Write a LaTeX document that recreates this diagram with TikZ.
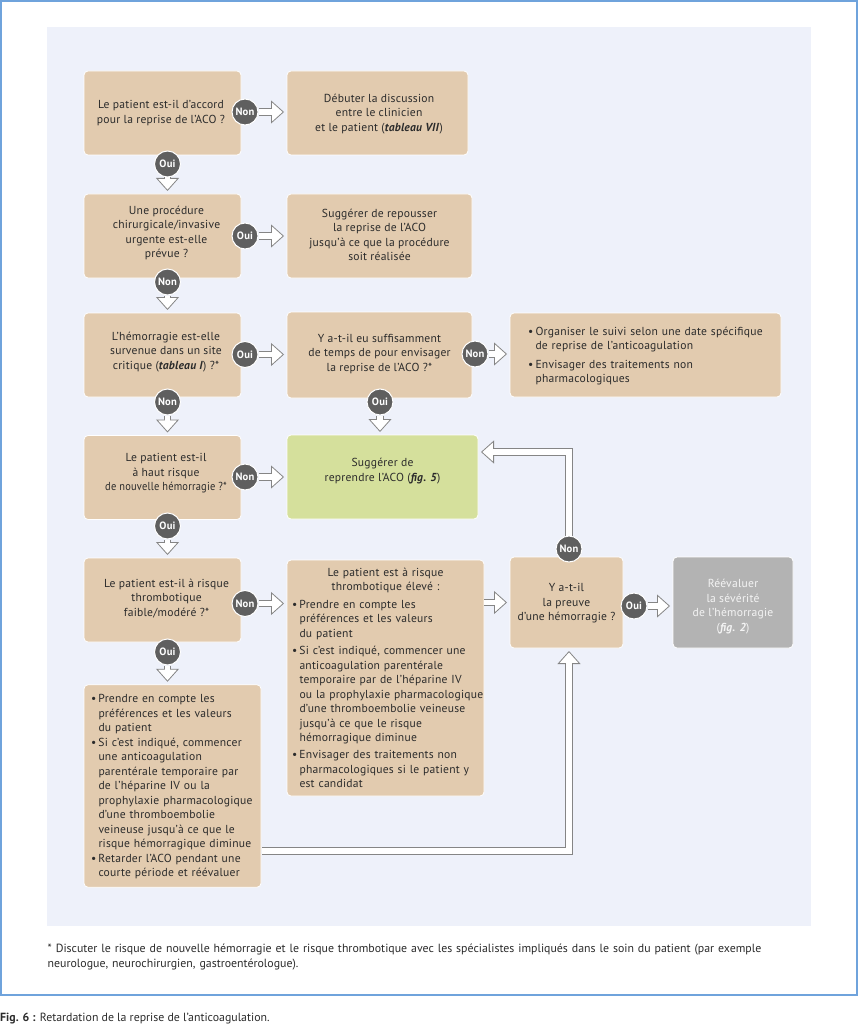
\documentclass[tikz,border=0pt]{standalone}
\usepackage{fontspec}
\setmainfont[LetterSpace=2]{PT Sans}
\newfontfamily\notefont{PT Sans}
\usetikzlibrary{arrows.meta}
\definecolor{panelblue}{HTML}{EEF1FA}
\definecolor{framesky}{HTML}{6FA3DC}
\definecolor{sandbox}{HTML}{E2CBAF}
\definecolor{leafgreen}{HTML}{D5E09C}
\definecolor{stonegrey}{HTML}{B3B3B3}
\definecolor{discgrey}{HTML}{5F5F5F}
\definecolor{inkdark}{HTML}{2B2B2B}
\definecolor{pipegrey}{HTML}{858585}
% centred lines, nudged by dx and dy inside the box
\newcommand{\lns}[3]{\raisebox{#2}[0pt][0pt]{\hspace*{#1}\hspace*{#1}\begin{tabular}[c]{@{}c@{}}#3\end{tabular}}}
% bullet item, the optional value is its distance from the box edge
\newcommand{\bul}[1][7pt]{\par\leftskip=\dimexpr#1+7.5pt\relax\leavevmode\hspace*{-7.5pt}\makebox[7.5pt][l]{\textbullet}\ignorespaces}
\newcommand{\tref}[1]{\textbf{\textit{#1}}}
\tikzset{
	qbox/.style={rectangle, rounded corners=4pt, fill=sandbox, draw=white, line width=0.8pt, outer sep=0pt, text=inkdark, font=\fontsize{11.6}{14.5}\selectfont},
	listbox/.style={qbox, align=left, inner xsep=0pt},
	decision/.style={circle, fill=discgrey, draw=white, line width=1pt, minimum size=26pt, inner sep=0pt, text=white, font=\fontsize{10.6}{10}\selectfont\bfseries},
	flow/.style={draw=pipegrey, line width=0.9pt, double=white, double distance=5.6pt, shorten >=3pt,
		-{Triangle[length=13pt, width=23pt, fill=white, line width=0.8pt]},
		postaction={draw=white, -, line width=0.1pt, double=white, double distance=5.6pt, shorten >=15pt}},
}
\begin{document}
\begin{tikzpicture}[x=1pt, y=-1pt]
	\useasboundingbox (0,0) rectangle (858,1024);
	\node[rectangle, draw=framesky, line width=1.6pt, fill=white, minimum width=856pt, minimum height=994pt](frameBox) at (429,498){};
	\node[rectangle, fill=panelblue, minimum width=764pt, minimum height=899pt](panelBox) at (429,476.5){};

	% left column
	\node[qbox, minimum width=157pt, minimum height=84pt](boxAgree) at (162.5,113){\lns{-1.5pt}{-3pt}{Le patient est-il d’accord\\pour la reprise de l’ACO ?}};
	\node[qbox, minimum width=157pt, minimum height=84pt](boxProc) at (162.5,236){\lns{4pt}{0pt}{Une procédure\\chirurgicale/invasive\\urgente est-elle\\prévue ?}};
	\node[qbox, minimum width=157pt, minimum height=84pt](boxSite) at (162.5,355){\lns{3.5pt}{0pt}{L’hémorragie est-elle\\survenue dans un site\\critique (\tref{tableau I}) ?*}};
	\node[qbox, minimum width=157pt, minimum height=84pt](boxRisk) at (162.5,477.5){\lns{3.5pt}{1pt}{Le patient est-il\\à haut risque\\\scalebox{.9}[1]{de nouvelle hémorragie ?*}}};
	\node[qbox, minimum width=157pt, minimum height=84pt](boxThromb) at (162.5,600){\lns{4pt}{-2pt}{Le patient est-il à risque\\thrombotique\\faible/modéré ?*}};
	\node[listbox, text width=177pt, minimum width=177pt, minimum height=202pt](boxDelay) at (172.5,786){%
		\bul Prendre en compte les\\préférences et les valeurs\\du patient
		\bul Si c’est indiqué, commencer\\une anticoagulation\\parentérale temporaire par\\de l’héparine IV ou la\\prophylaxie pharmacologique\\d’une thromboembolie\\veineuse jusqu’à ce que le\\risque hémorragique diminue
		\bul Retarder l’ACO pendant une\\courte période et réévaluer\par\vspace{5pt}};

	% middle column
	\node[qbox, minimum width=181pt, minimum height=84pt](boxTalk) at (377.5,113){\lns{1.5pt}{-4pt}{Débuter la discussion\\entre le clinicien\\et le patient (\tref{tableau VII})}};
	\node[qbox, minimum width=185pt, minimum height=84pt](boxDefer) at (379.5,236){\lns{0pt}{-3pt}{Suggérer de repousser\\la reprise de l’ACO\\jusqu’à ce que la procédure\\soit réalisée}};
	\node[qbox, minimum width=185pt, minimum height=86pt](boxTime) at (379.5,355){\lns{0pt}{-2pt}{Y a-t-il eu suffisamment\\de temps de pour envisager\\la reprise de l’ACO ?*}};
	\node[qbox, fill=leafgreen, minimum width=191pt, minimum height=84pt](boxResume) at (382.5,477){\lns{0pt}{3pt}{Suggérer de\\reprendre l’ACO (\tref{fig. 5})}};
	\node[listbox, text width=197pt, minimum width=197pt, minimum height=236pt](boxHigh) at (385.5,678){%
		{\centering Le patient est à risque\\thrombotique élevé :\par}\vspace{2.8pt}
		\bul[5pt] Prendre en compte les\\préférences et les valeurs\\du patient\par\vspace{2.8pt}
		\bul[5pt] Si c’est indiqué, commencer une\\anticoagulation parentérale\\temporaire par de l’héparine IV\\ou la prophylaxie pharmacologique\\d’une thromboembolie veineuse\\jusqu’à ce que le risque\\hémorragique diminue\par\vspace{2.8pt}
		\bul[5pt] Envisager des traitements non\\pharmacologiques si le patient y\\est candidat\par};

	% right column
	\node[listbox, text width=271pt, minimum width=271pt, minimum height=84pt](boxFollow) at (645.5,355){%
		\bul[18pt] Organiser le suivi selon une date spécifique\\de reprise de l’anticoagulation\par\vspace{4.4pt}
		\bul[18pt] Envisager des traitements non\\pharmacologiques\par\vspace{4pt}};
	\node[qbox, minimum width=113pt, minimum height=91pt](boxProof) at (566.5,602.5){\lns{0pt}{-4pt}{Y a-t-il\\la preuve\\d’une hémorragie ?}};
	\node[qbox, fill=stonegrey, text=white!85!stonegrey, minimum width=120pt, minimum height=91pt](boxReview) at (733,602.5){\lns{0pt}{-7pt}{Réévaluer\\la sévérité\\de l’hémorragie\\(\tref{fig. 2})}};

	% answers
	\node[decision](nonAgree) at (245,112){Non};
	\node[decision](ouiAgree) at (167.5,164){Oui};
	\node[decision](ouiProc) at (245,236){Oui};
	\node[decision](nonProc) at (167.5,282){Non};
	\node[decision](ouiSite) at (245,354.5){Oui};
	\node[decision](nonSite) at (167.5,402){Non};
	\node[decision](nonTime) at (475,354){Non};
	\node[decision](ouiTime) at (380,402){Oui};
	\node[decision](nonRisk) at (245,477){Non};
	\node[decision](ouiRisk) at (167.5,526){Oui};
	\node[decision](nonThromb) at (245,603.5){Non};
	\node[decision](ouiThromb) at (167.5,652){Oui};
	\node[decision](ouiProof) at (634,606){Oui};
	\node[decision](nonProof) at (569,549){Non};

	\coordinate (exitDelay) at (262,851);
	\coordinate (entryResume) at (478,452);

	% connectors
	\draw[flow] (nonAgree) -- (nonAgree -| boxTalk.west);
	\draw[flow] (ouiAgree) -- (ouiAgree |- boxProc.north);
	\draw[flow] (ouiProc) -- (ouiProc -| boxDefer.west);
	\draw[flow] (nonProc) -- (nonProc |- boxSite.north);
	\draw[flow] (ouiSite) -- (ouiSite -| boxTime.west);
	\draw[flow] (nonSite) -- (nonSite |- boxRisk.north);
	\draw[flow] (nonTime) -- (nonTime -| boxFollow.west);
	\draw[flow] (ouiTime) -- (ouiTime |- boxResume.north);
	\draw[flow] (nonRisk) -- (nonRisk -| boxResume.west);
	\draw[flow] (ouiRisk) -- (ouiRisk |- boxThromb.north);
	\draw[flow] (nonThromb) -- (nonThromb -| boxHigh.west);
	\draw[flow] (ouiThromb) -- (ouiThromb |- boxDelay.north);
	\draw[flow] (boxHigh.east |- boxProof) -- (boxProof);
	\draw[flow] (ouiProof) -- (ouiProof -| boxReview.west);
	\draw[flow] (nonProof) |- (entryResume);
	\draw[flow] (exitDelay) -| (nonProof |- boxProof.south);

	\node[anchor=north west, inner sep=0pt, text width=780pt, align=left, text=inkdark, font=\notefont\fontsize{11.85}{15}\selectfont](noteText) at (47.5,943.5){* Discuter le risque de nouvelle hémorragie et le risque thrombotique avec les spécialistes impliqués dans le soin du patient (par exemple\\neurologue, neurochirurgien, gastroentérologue).};
	\node[anchor=west, inner sep=0pt, text=inkdark, font=\notefont\fontsize{11.85}{12}\selectfont](captionText) at (0,1018.5){\textbf{Fig. 6 :} Retardation de la reprise de l’anticoagulation.};
\end{tikzpicture}
\end{document}
